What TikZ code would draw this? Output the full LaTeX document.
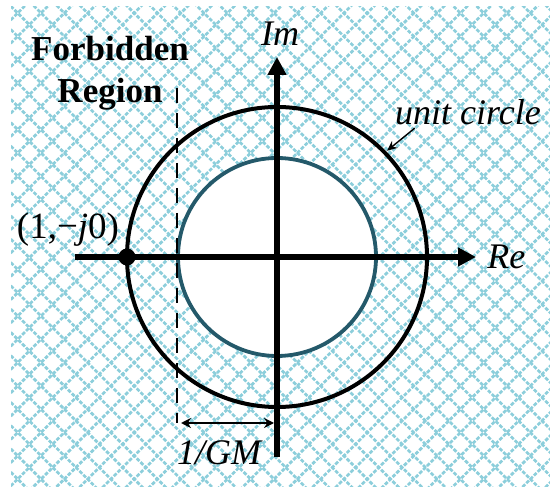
\documentclass[tikz,border=0pt]{standalone}
\usepackage{fontspec}
\setmainfont{Liberation Serif}[
    BoldFont={Liberation Serif Bold},
    ItalicFont={Liberation Serif Italic}]
\usepackage{tikz}
\usetikzlibrary{arrows.meta, positioning, calc}
\usepackage{xcolor}
\definecolor{HatchBlue}{HTML}{8CCEDB}
\definecolor{InnerTeal}{HTML}{24596A}
\definecolor{AxisBlack}{HTML}{000000}
\tikzset{
    % Line styles
    hatchline/.style={
        draw=HatchBlue,
        line width=1.35pt,
        dash pattern=on 1.9pt off 0.8pt
    },
    axisline/.style={
        draw=AxisBlack,
        line width=2.8pt,
        -{Triangle[length=9pt,width=9pt]}
    },
    unitcircle/.style={
        draw=AxisBlack,
        line width=2pt
    },
    innercircle/.style={
        draw=InnerTeal,
        line width=1.9pt
    },
    boundline/.style={
        draw=AxisBlack,
        line width=1pt,
        dash pattern=on 7.5pt off 5pt
    },
    gmarrow/.style={
        {Stealth[length=5pt,width=5pt]}-{Stealth[length=5pt,width=5pt]},
        line width=0.9pt,
        shorten <=2pt,
        shorten >=1.5pt
    },
    pointer/.style={
        -{Stealth[length=5pt,width=4.5pt]},
        line width=0.7pt
    },
    % Node styles
    pointdot/.style={
        circle,
        fill=AxisBlack,
        inner sep=0pt,
        minimum size=8.5pt
    },
    axislabel/.style={
        inner sep=0pt,
        font=\fontsize{18}{21}\selectfont\itshape
    },
    regionlabel/.style={
        inner sep=0pt,
        align=center,
        font=\fontsize{17.5}{21}\selectfont\bfseries
    }
}

\begin{document}
\begin{tikzpicture}[x=0.5pt, y=0.5pt]
    \useasboundingbox (0,0) rectangle (550,486);

    % Forbidden region hatching
    \begin{scope}
        \clip (11,0) rectangle (550,479);
        \foreach \k in {-30,...,16} {
            \draw[hatchline] (-100,{29+\k*23.3}) -- (1100,{1229+\k*23.3});
        }
        \foreach \k in {-10,...,36} {
            \draw[hatchline] (-100,{311+\k*23.3}) -- (1100,{-889+\k*23.3});
        }
    \end{scope}

    % Circles
    \coordinate (O) at (277,229);
    \fill[white] (O) circle (99);
    \draw[innercircle] (O) circle (99);
    \draw[unitcircle] (O) circle (150);

    % Gain margin boundary
    \coordinate (gmTop) at (177,398);
    \coordinate (gmBot) at (177,63);
    \draw[boundline] (gmTop) -- (gmBot);

    % Axes
    \coordinate (reStart) at (75,229);
    \coordinate (reEnd) at (476,229);
    \coordinate (imStart) at (277,29);
    \coordinate (imEnd) at (277,429);
    \draw[axisline] (reStart) -- (reEnd);
    \draw[axisline] (imStart) -- (imEnd);

    \draw[gmarrow] (gmBot) -- (gmBot -| imStart);

    % Critical point
    \node[pointdot] (crit) at (127,229) {};

    % Labels
    \node[axislabel] (imLabel) at (280,452) {Im};
    \node[axislabel, anchor=west] (reLabel) at (487,229) {Re};
    \node[axislabel] (ucLabel) at (468,374) {unit circle};
    \node[axislabel, font=\fontsize{18.5}{21}\selectfont] (critLabel) at (68,256) {(1,−\textit{j}0)};
    \node[regionlabel] (regionLabel) at (110,413) {Forbidden\\Region};
    \node[axislabel] (gmLabel) at (219,33) {1/GM};

    \coordinate (ucTip) at ($(O)+(44:153)$);
    \draw[pointer] ($(ucLabel.south west)+(20,-3)$) -- (ucTip);
\end{tikzpicture}
\end{document}
